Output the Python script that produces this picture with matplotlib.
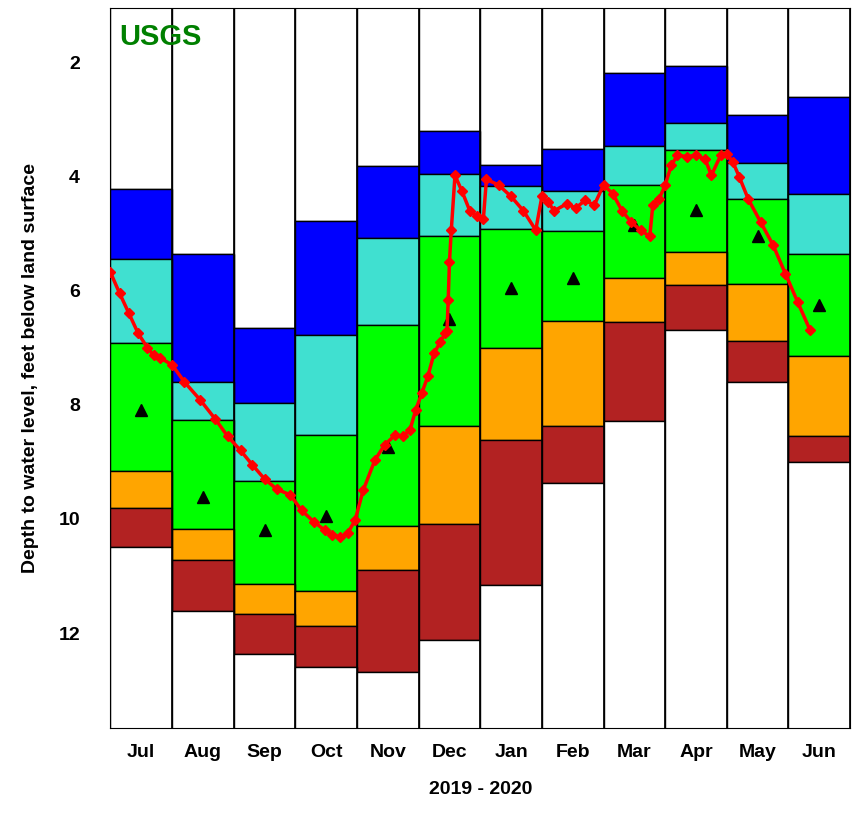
import matplotlib
matplotlib.use("Agg")
import matplotlib.pyplot as plt
import numpy as np
plt.rcParams['font.family'] = ['Liberation Sans', 'DejaVu Sans']

months = ["Jul","Aug","Sep","Oct","Nov","Dec","Jan","Feb","Mar","Apr","May","Jun"]
blue_top  = [4.22,5.35,6.66,4.78,3.82,3.21,3.79,3.51,2.19,2.07,2.93,2.61]
cyan_top  = [5.45,7.60,7.97,6.78,5.08,3.96,4.17,4.26,3.47,3.07,3.77,4.31]
green_top = [6.92,8.27,9.34,8.53,6.61,5.05,4.92,4.96,4.15,3.54,4.40,5.36]
orange_top= [9.16,10.18,11.14,11.26,10.13,8.37,7.00,6.54,5.77,5.33,5.89,7.15]
red_top   = [9.81,10.72,11.67,11.88,10.90,10.09,8.62,8.37,6.55,5.90,6.89,8.55]
red_bot   = [10.49,11.61,12.37,12.60,12.68,12.12,11.16,9.37,8.29,6.69,7.60,9.00]
median    = [8.10,9.62,10.20,9.95,8.74,6.50,5.96,5.77,4.85,4.59,5.05,6.26]

# observed water level (x in months from Jul 1, depth)
obs_x = [0.00,0.15,0.30,0.45,0.60,0.70,0.81,1.00,1.20,1.46,1.70,1.90,2.11,2.30,2.50,2.70,2.92,3.10,3.30,3.48,3.60,3.73,3.85,3.97,4.10,4.29,4.45,4.62,4.75,4.86,4.95,5.05,5.15,5.25,5.35,5.43,5.46,5.48,5.50,5.53,5.59,5.70,5.83,5.95,6.05,
         6.10,6.30,6.50,6.70,6.90,7.00,7.10,7.20,7.40,7.55,7.70,7.85,8.00,8.15,8.30,8.45,8.60,8.75,8.80,8.90,9.00,9.10,9.20,9.35,9.50,9.65,9.75,9.90,10.00,10.10,10.20,10.35,10.55,10.75,10.95,11.15,11.35]
obs_y = [5.68,6.05,6.40,6.75,7.00,7.13,7.18,7.30,7.60,7.92,8.25,8.55,8.80,9.05,9.30,9.48,9.58,9.85,10.05,10.20,10.28,10.32,10.25,10.02,9.50,8.97,8.70,8.53,8.55,8.44,8.10,7.80,7.50,7.10,6.90,6.75,6.70,6.17,5.50,4.94,3.98,4.25,4.60,4.70,4.75,
         4.05,4.15,4.35,4.60,4.94,4.35,4.45,4.60,4.48,4.55,4.42,4.50,4.15,4.30,4.60,4.80,4.94,5.05,4.50,4.40,4.15,3.80,3.63,3.65,3.63,3.70,3.98,3.63,3.60,3.75,4.00,4.40,4.80,5.20,5.70,6.20,6.69]

fig = plt.figure(figsize=(8.63,8.15), dpi=100)
ax = fig.add_axes([0.128, 0.107, 0.857, 0.883])
x = np.arange(12)
layers = [(np.full(12,0.0), blue_top, "white"), (blue_top, cyan_top, "#0000ff"),
          (cyan_top, green_top, "#40e0d0"), (green_top, orange_top, "#00ff00"),
          (orange_top, red_top, "#ffa500"), (red_top, red_bot, "#b22222"),
          (red_bot, np.full(12,20.0), "white")]
for lo, hi, c in layers:
    lo = np.array(lo); hi = np.array(hi)
    ax.bar(x+0.5, hi-lo, bottom=lo, width=1.0, color=c, edgecolor="black", linewidth=1.0)
for i in range(13):
    ax.axvline(i, color="black", lw=1.2)
ax.plot(x+0.5, median, "^", color="black", ms=9, zorder=4)
ax.plot(obs_x, obs_y, "-D", color="red", ms=5, lw=2.5, zorder=5)
ax.set_xlim(0, 12)
ax.set_ylim(13.66, 1.05)
ax.set_yticks([2,4,6,8,10,12])
ax.set_xticks(x+0.5)
ax.set_xticklabels(months, fontweight="bold", fontsize=14)
ax.tick_params(axis="y", labelsize=14, length=0, pad=22)
ax.tick_params(axis="x", length=0, pad=12)
for t in ax.get_yticklabels(): t.set_fontweight("bold")
ax.set_xlabel("2019 - 2020", fontsize=14, fontweight="bold", labelpad=14)
ax.set_ylabel("Depth to water level, feet below land surface", fontsize=14, fontweight="bold", labelpad=14)
ax.text(0.15, 1.55, "USGS", color="#008000", fontsize=21, fontweight="bold", va="center")
fig.savefig("out.png")
